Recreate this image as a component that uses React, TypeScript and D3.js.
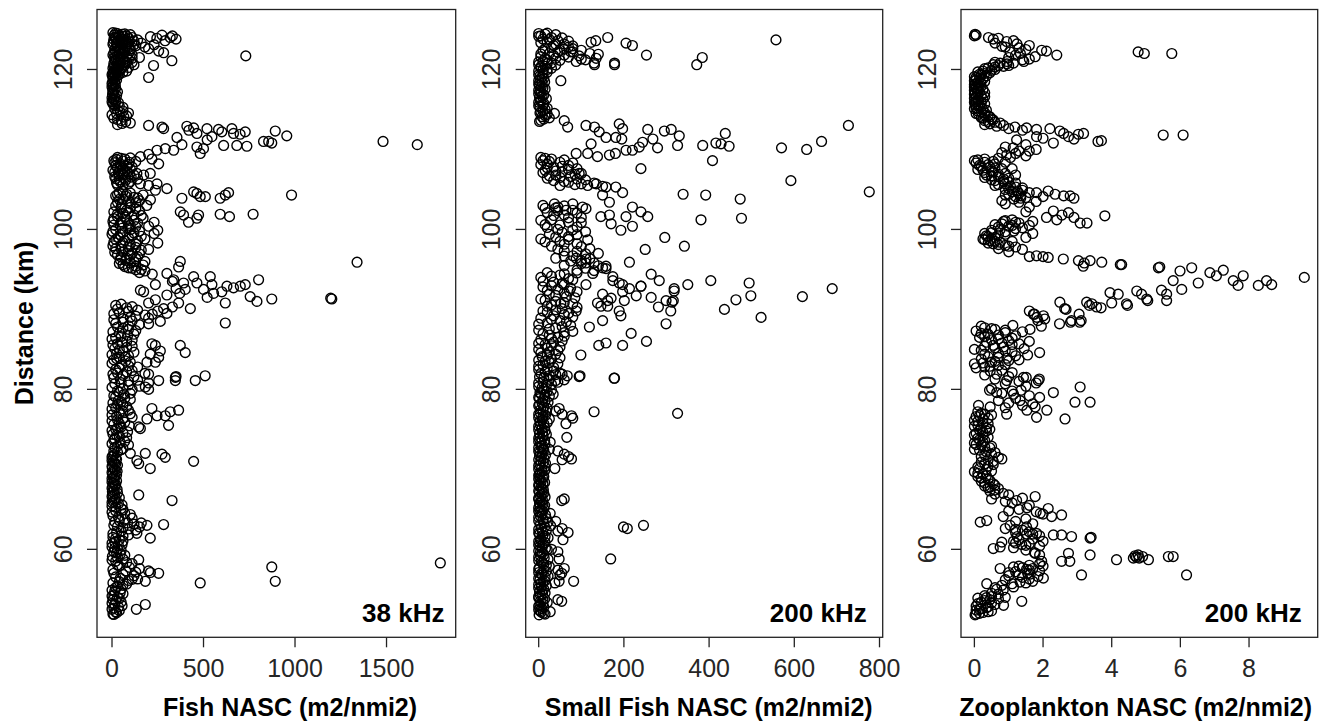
import React from "react";
import * as d3 from "d3";

// ---- data: [distance km, NASC] ----
const fish38: [number, number][] = [
  [124.6,5],[124.5,30],[124.4,55],[124.3,12],[124.2,80],[124.1,40],[124.0,110],[123.9,20],[123.8,65],[123.7,140],[123.6,35],[123.5,95],[123.4,8],[123.3,160],[123.2,50],[123.1,120],[123.0,25],[122.9,75],[122.8,180],[122.7,45],[122.6,100],[122.5,15],
  [124.1,210],[123.9,245],[124.3,273],[124.0,318],[123.8,350],[124.2,330],[123.6,290],[123.1,230],[122.1,282],[121.1,327],[120.5,227],[119.0,200],[121.7,731],[122.6,200],[121.5,150],[120.9,110],[122.3,255],
  [122.4,60],[122.2,20],[122.0,90],[121.8,5],[121.6,45],[121.4,110],[121.2,15],[121.0,70],[120.8,30],[120.6,120],[120.4,10],[120.2,55],[120.0,25],[119.8,80],[119.6,5],[119.4,40],[119.2,15],
  [119.0,10],[118.7,25],[118.4,5],[118.1,18],[117.8,0],[117.5,12],[117.2,30],[116.9,3],[116.6,15],[116.3,8],
  [116.0,20],[115.7,5],[115.4,40],[115.1,15],[114.8,60],[114.5,25],[114.2,80],[113.9,10],[113.6,50],[113.3,100],[113.1,30],
  [113.0,200],[112.8,273],[112.6,282],[111.5,355],[112.9,409],[112.7,446],[112.0,464],[112.6,519],[111.6,546],[112.5,582],[110.5,610],[112.6,655],[112.0,664],[110.5,682],[112.2,728],[110.4,737],[111.0,828],[110.8,873],[112.3,892],[111.7,955],[110.6,382],[109.9,337],[110.1,291],[109.9,246],[109.4,200],[110.3,464],[110.1,500],[109.5,482],[109.1,155],[108.8,218],[108.2,255],[111.0,856],[111.0,1481],[110.6,1668],[111.2,520],[112.2,600],[111.9,700],[112.4,420],
  [109.0,30],[108.8,70],[108.6,10],[108.4,95],[108.2,45],[108.0,20],[107.8,110],[107.6,60],[107.4,5],[107.2,85],[107.0,35],[106.8,120],[106.6,15],[106.4,70],[106.2,40],[106.0,100],[105.8,25],[105.6,60],[108.9,50],[108.5,130],[107.9,80],[107.3,40],[106.9,95],[106.3,140],
  [107.0,136],[106.8,173],[107.0,209],[105.7,155],[105.5,200],[105.7,246],[105.1,300],[104.9,237],
  [103.9,382],[104.7,446],[104.5,464],[104.1,482],[104.1,510],[103.9,591],[104.3,619],[104.6,637],[104.3,981],
  [104.6,40],[104.4,80],[104.2,20],[104.0,120],[103.8,60],[103.6,150],[103.4,30],[103.2,100],[103.0,190],[102.8,50],[102.6,130],[102.4,80],[104.3,170],[103.7,210],
  [102.2,373],[101.8,391],[100.9,418],[101.4,464],[101.8,473],[101.9,591],[101.6,642],[101.9,771],
  [102.2,10],[102.0,60],[101.8,120],[101.6,30],[101.4,170],[101.2,80],[101.0,5],[100.8,140],[100.6,45],[100.4,200],[100.2,90],[100.0,20],[99.8,150],[99.6,60],[99.4,0],[99.2,110],[99.0,35],[98.8,180],[98.6,70],[98.4,10],[98.2,130],[98.0,50],[97.8,90],[97.6,20],[97.4,160],[97.2,60],[97.0,110],[96.8,30],[96.6,140],[96.4,80],[96.2,45],[96.0,180],[95.8,100],[95.6,60],[95.4,130],[95.2,90],[95.0,160],[100.5,100],[99.5,230],[98.3,250],[100.9,230],[97.5,200],[99.9,250],
  [94.5,300],[95.3,364],[96.0,373],[93.7,337],[93.3,391],[94.1,446],[93.3,464],[94.1,537],[93.1,546],[92.0,555],[92.9,628],[92.7,664],[92.9,701],[93.1,728],[91.6,755],[93.7,801],[91.0,792],[91.3,873],[90.8,619],[90.1,428],[93.1,237],[92.2,173],[92.4,155],[91.2,237],[91.3,1201],[91.4,1195],[95.9,1339],
  [93.5,330],[92.6,350],[92.0,370],[91.8,300],[92.5,400],[91.5,520],[92.2,600],[92.5,500],
  [90.8,200],[90.1,282],[90.8,364],[88.3,619],[90.3,330],[89.8,250],[89.5,300],
  [90.5,20],[90.2,80],[89.9,140],[89.6,40],[89.3,180],[89.0,100],[88.7,10],[88.4,60],[88.1,150],[87.8,30],[87.5,90],[87.2,5],[86.9,120],[86.6,50],[86.3,0],[86.0,80],[85.7,30],[85.4,110],[85.1,15],[84.8,60],[84.5,25],[84.2,90],[88.9,200],[89.4,220],[88.5,264],[88.2,200],
  [85.7,218],[85.5,237],[84.8,264],[84.4,209],[84.0,255],[83.4,237],[83.4,191],[85.5,373],[84.6,400],
  [84.0,40],[83.7,10],[83.4,100],[83.1,55],[82.8,140],[82.5,20],[82.2,80],[81.9,5],[81.6,120],[81.3,45],[81.0,90],[80.7,15],[80.4,150],[80.1,60],[79.8,30],[79.5,100],[79.2,10],[78.9,70],[78.6,35],[82.0,180],[80.8,200],
  [81.5,346],[81.6,350],[81.1,346],[81.1,455],[81.7,509],[81.1,255],[81.9,200],[80.3,182],[80.0,200],
  [78.3,5],[78.0,60],[77.7,20],[77.4,90],[77.1,40],[76.8,0],[76.5,110],[76.2,30],[75.9,70],[75.6,10],[75.3,50],[75.0,20],[74.7,85],[74.4,5],[74.1,40],[73.8,15],[73.5,70],[73.2,0],[72.9,30],[72.6,60],[72.3,10],[72.0,100],
  [77.6,218],[77.4,364],[77.2,318],[76.7,291],[76.7,246],[76.3,191],[75.3,146],[75.5,309],[75.1,155],[72.0,182],[71.0,446],[71.5,291],[71.9,273],[71.1,136],[70.1,209],[70.7,146],
  [71.7,5],[71.4,20],[71.1,0],[70.8,15],[70.5,30],[70.2,3],[69.9,18],[69.6,0],[69.3,25],[69.0,8],[68.7,12],[68.4,0],[68.1,20],[67.8,5],[67.5,28],[67.2,2],[66.9,15],[66.6,0],[66.3,22],[66.0,8],[65.7,35],[65.4,0],[65.1,50],
  [66.8,146],[66.1,328],
  [64.8,20],[64.5,70],[64.2,5],[63.9,110],[63.6,40],[63.3,85],[63.0,10],[62.7,60],[62.4,130],[62.1,25],[61.8,90],
  [63.1,282],[63.0,191],[62.0,136],[61.4,209],[63.3,160],[62.8,150],
  [61.5,5],[61.2,40],[60.9,15],[60.6,55],[60.3,0],[60.0,30],[59.7,10],[59.4,45],[59.1,2],
  [58.8,60],[58.5,20],[58.2,110],[57.9,40],[57.6,150],[57.3,75],[57.0,10],[56.7,120],[56.4,45],[56.1,90],[55.8,5],[55.5,60],
  [58.7,146],[57.8,873],[56.0,892],[55.8,482],[57.0,255],[57.1,210],[56.0,182],[56.3,140],[57.3,200],[58.3,1794],
  [55.2,20],[54.9,0],[54.6,45],[54.3,10],[54.0,30],[53.7,5],[53.4,50],[53.1,15],[52.8,35],[52.5,0],[52.2,20],[51.9,5],
  [53.1,182],[52.5,133],
  // denser near-zero band
  [124.55,20],[124.45,70],[124.35,100],[124.25,35],[124.15,60],[124.05,15],[123.95,90],[123.85,45],[123.75,10],[123.65,75],[123.55,120],[123.45,55],[123.35,25],[123.25,85],[123.15,5],[123.05,60],[122.95,130],[122.85,30],[122.75,90],[122.65,60],[122.55,40],
  [122.45,30],[122.35,100],[122.25,70],[122.15,40],[122.05,10],[121.95,60],[121.85,110],[121.75,30],[121.65,80],[121.55,15],[121.45,60],[121.35,35],[121.25,90],[121.15,50],[121.05,20],[120.95,45],[120.85,80],[120.75,10],[120.65,40],[120.55,70],[120.45,35],[120.35,20],[120.25,90],[120.15,5],[120.05,50],[119.95,15],[119.85,40],[119.75,25],[119.65,60],[119.55,10],[119.45,20],[119.35,0],[119.25,30],[119.15,5],
  [118.85,5],[118.55,15],[118.25,0],[117.95,8],[117.65,20],[117.35,4],[117.05,10],[116.75,25],[116.45,0],[116.15,12],
  [115.85,35],[115.55,15],[115.25,60],[114.95,30],[114.65,45],[114.35,0],[114.05,65],[113.75,30],[113.45,75],[113.25,55],[115.95,0],[114.55,90],
  [108.95,100],[108.75,25],[108.55,60],[108.35,15],[108.15,90],[107.95,50],[107.75,30],[107.55,100],[107.35,70],[107.15,15],[106.95,60],[106.75,40],[106.55,105],[106.35,20],[106.15,75],[105.95,45],[105.75,90],[105.55,30],
  [104.75,60],[104.55,100],[104.35,30],[104.15,75],[103.95,140],[103.75,40],[103.55,90],[103.35,130],[103.15,55],[102.95,20],[102.75,100],[102.55,50],[102.35,150],
  [102.15,90],[101.95,30],[101.75,160],[101.55,70],[101.35,10],[101.15,120],[100.95,50],[100.75,90],[100.55,10],[100.35,130],[100.15,55],[99.95,100],[99.75,5],[99.55,120],[99.35,45],[99.15,160],[98.95,90],[98.75,20],[98.55,140],[98.35,60],[98.15,100],[97.95,5],[97.75,130],[97.55,50],[97.35,90],[97.15,15],[96.95,150],[96.75,100],[96.55,50],[96.35,130],[96.15,75],[95.95,120],[95.75,40],[95.55,170],[95.35,70],[95.15,110],[94.95,130],[94.8,180],[94.6,150],[94.4,220],
  [90.65,50],[90.35,110],[90.05,30],[89.75,90],[89.45,10],[89.15,130],[88.85,60],[88.55,110],[88.25,20],[87.95,90],[87.65,60],[87.35,130],[87.05,40],[86.75,85],[86.45,20],[86.15,110],[85.85,55],[85.55,5],[85.25,80],[84.95,40],[84.65,120],[84.35,0],[84.05,70],
  [83.85,25],[83.55,75],[83.25,0],[82.95,90],[82.65,40],[82.35,110],[82.05,30],[81.75,60],[81.45,10],[81.15,140],[80.85,50],[80.55,90],[80.25,0],[79.95,110],[79.65,40],[79.35,65],[79.05,20],[78.75,100],[78.45,50],
  [78.15,30],[77.85,80],[77.55,0],[77.25,60],[76.95,100],[76.65,25],[76.35,60],[76.05,0],[75.75,40],[75.45,95],[75.15,30],[74.85,0],[74.55,60],[74.25,25],[73.95,80],[73.65,10],[73.35,45],[73.05,90],[72.75,15],[72.45,50],[72.15,30],
  [71.85,12],[71.55,0],[71.25,25],[70.95,8],[70.65,20],[70.35,0],[70.05,12],[69.75,28],[69.45,5],[69.15,15],[68.85,0],[68.55,25],[68.25,8],[67.95,18],[67.65,0],[67.35,12],[67.05,30],[66.75,5],[66.45,40],[66.15,15],[65.85,0],[65.55,55],[65.25,20],
  [64.95,60],[64.65,0],[64.35,100],[64.05,35],[63.75,70],[63.45,15],[63.15,120],[62.85,30],[62.55,90],[62.25,50],[61.95,5],[61.65,60],
  [61.35,20],[61.05,60],[60.75,0],[60.45,35],[60.15,15],[59.85,50],[59.55,25],[59.25,70],[58.95,30],
  [58.65,0],[58.35,80],[58.05,30],[57.75,95],[57.45,5],[57.15,130],[56.85,60],[56.55,20],[56.25,110],[55.95,40],[55.65,80],[55.35,30],
  [55.05,50],[54.75,15],[54.45,60],[54.15,0],[53.85,40],[53.55,20],[53.25,0],[52.95,55],[52.65,10],[52.35,40],[52.05,25],[51.85,10],
];

const smallFish200: [number, number][] = [
  [124.5,0],[124.4,15],[124.2,5],[124.0,30],[123.8,10],[123.6,45],[123.4,20],[123.2,60],[123.0,35],[122.8,70],[122.6,15],[122.4,50],[122.2,80],[122.0,25],[121.8,60],[121.6,5],[121.4,40],[121.2,20],[121.0,10],[120.8,30],[120.6,0],[120.4,15],[120.2,5],[120.0,20],[119.8,0],[119.5,10],[119.2,3],[118.9,12],[118.6,0],[118.3,8],[118.0,2],[117.7,10],[117.4,0],[117.1,6],[116.8,12],[116.5,2],[116.2,5],[115.9,0],[115.6,10],[115.3,3],[115.0,15],[114.7,5],[114.4,20],[114.1,8],[113.8,12],[113.5,2],
  [122.4,100],[122.0,120],[121.7,95],[121.4,135],[121.2,110],[121.0,88],[120.8,130],[121.9,140],[122.2,75],[121.3,100],
  [123.4,123],[123.6,134],[124.0,162],[123.3,205],[123.0,220],[121.8,253],[120.8,178],[120.6,178],[120.6,371],[121.5,384],[123.7,557],[122.6,80],[120.6,131],[118.6,52],
  [114.5,37],[113.6,60],[112.8,68],[113.0,111],[112.8,131],[112.2,142],[111.5,158],[113.2,189],[112.6,197],[111.5,181],[111.3,195],[112.5,256],[111.3,268],[110.2,279],[112.3,295],[112.5,311],[111.7,330],[110.5,326],[110.5,385],[110.8,416],[110.7,428],[112.0,438],[110.4,447],[108.6,408],[110.2,570],[107.6,240],
  [109.5,88],[109.5,115],[109.1,138],[109.3,166],[109.5,180],[109.9,205],[109.9,220],[110.3,236],[110.9,244],[110.7,123],[110.0,629],[111.0,664],[113.0,727],[106.1,592],[104.7,776],
  [109.0,5],[108.8,30],[108.6,10],[108.4,50],[108.2,20],[108.0,70],[107.8,35],[107.6,90],[107.4,15],[107.2,55],[107.0,100],[106.8,40],[106.6,75],[106.4,20],[106.2,110],[106.0,60],[105.8,130],[105.6,85],[105.4,150],
  [107.0,95],[105.5,115],[105.7,135],[105.3,158],[105.3,181],[104.6,197],[104.3,150],[103.4,166],[102.8,220],[102.2,240],[101.6,256],[101.6,205],[100.4,220],[101.8,166],[101.6,146],[100.7,170],[99.9,193],[102.6,111],[102.8,103],[103.2,80],[103.2,37],[102.8,45],[102.4,64],
  [104.4,339],[104.3,392],[103.8,473],[101.4,476],[101.2,381],[99.0,296],[97.5,250],[97.9,342],[95.9,213],[98.7,115],
  [103.0,10],[102.7,40],[102.4,80],[102.1,20],[101.8,60],[101.5,100],[101.2,30],[100.9,70],[100.6,15],[100.3,90],[100.0,45],[99.7,110],[99.4,25],[99.1,70],[98.8,5],[98.5,50],[98.2,90],[97.9,30],[97.6,120],[97.3,60],[97.0,140],[96.7,80],[96.4,40],[96.1,100],[95.8,130],[95.5,60],[95.2,150],[94.9,90],
  [96.4,88],[95.8,111],[94.5,127],[95.1,158],[94.1,174],[93.3,189],[92.6,213],[92.9,240],[92.2,197],[91.4,170],[90.8,138],[90.4,162],[89.8,189],
  [95.4,158],[96.3,111],[94.4,264],[93.6,283],[93.6,404],[93.3,494],[93.1,350],[92.3,318],[90.9,313],[91.1,299],[91.5,264],[91.7,229],[91.1,201],[91.1,162],[90.4,146],[89.2,193],[90.0,436],[91.2,463],[91.7,498],[89.0,522],[89.8,310],[88.2,299],[88.6,150],[87.8,119],[85.5,141],[85.8,158],[85.5,197],[87.0,217],[86.0,253],[84.3,99],[81.6,95],[81.4,177],[90.7,52],[89.8,88],[92.3,72],[93.1,111],[93.6,174],[93.1,197],[92.9,240],[91.9,150],
  [91.6,619],[92.6,689],[90.3,281],[91.1,316],[92.6,318],
  [94.6,20],[94.3,50],[94.0,5],[93.7,80],[93.4,35],[93.1,60],[92.8,10],[92.5,45],[92.2,90],[91.9,25],[91.6,65],[91.3,5],[91.0,40],[90.7,80],[90.4,20],[90.1,55],[89.8,10],[89.5,70],[89.2,35],[88.9,5],[88.6,50],[88.3,20],[88.0,75],[87.7,40],[87.4,0],[87.1,60],[86.8,25],[86.5,45],[86.2,5],[85.9,35],[85.6,15],[85.3,50],[85.0,0],[84.7,25],[84.4,40],[84.1,8],[83.8,30],[83.5,15],[83.2,45],[82.9,0],[82.6,20],[82.3,35],[82.0,5],[81.7,25],[81.4,12],[81.1,40],[80.8,0],[80.5,18],[80.2,8],[79.9,30],[79.6,3],[79.3,15],[79.0,0],[78.7,10],[78.4,22],[78.1,2],[77.8,12],[77.5,5],[77.2,18],[76.9,0],[76.6,10],[76.3,25],[76.0,3],[75.7,12],[75.4,0],[75.1,8],[74.8,15],[74.5,2],[74.2,10],[73.9,0],[73.6,14],[73.3,4],[73.0,9],[72.7,0],[72.4,12],[72.1,3],[71.8,16],[71.5,6],[71.2,0],[70.9,11],[70.6,3],[70.3,14],[70.0,0],[69.7,8],[69.4,2],[69.1,12],[68.8,0],[68.5,6],[68.2,10],[67.9,1],[67.6,8],[67.3,0],[67.0,12],[66.7,4],[66.4,0],[66.1,9],[65.8,2],[65.5,14],[65.2,0],[64.9,7],[64.6,3],[64.3,16],[64.0,0],[63.7,10],[63.4,22],[63.1,4],[62.8,14],[62.5,0],[62.2,9],[61.9,2],[61.6,15],[61.3,5],[61.0,0],[60.7,11],[60.4,3],[60.1,16],[59.8,0],[59.5,8],[59.2,4],[58.9,13],[58.6,0],[58.3,9],[58.0,18],[57.7,2],[57.4,12],[57.1,0],[56.8,8],[56.5,15],[56.2,3],[55.9,10],[55.6,0],[55.3,6],[55.0,12],[54.7,2],[54.4,9],[54.1,0],[53.8,14],[53.5,4],[53.2,10],[52.9,0],[52.6,7],[52.3,3],[52.0,11],[51.8,1],
  [81.7,97],[81.4,178],[81.7,67],[81.9,55],[79.4,34],[77.2,130],[77.0,326],[76.7,77],[76.4,80],[75.7,64],[74.0,66],[66.1,54],[64.5,27],[71.3,77],[71.6,70],[71.2,55],[70.1,38],[72.5,25],[73.4,27],[62.8,199],[62.6,208],[63.0,246],[62.1,69],[62.6,55],[61.2,57],[59.7,45],[58.8,48],[58.8,169],[57.0,54],[56.0,48],[56.0,82],[53.7,45],[53.5,54],[52.2,27],
  [82.0,50],[81.2,60],[80.9,45],[77.6,48],[76.9,55],[77.3,40],[72.3,45],[71.9,60],[66.3,60],[63.5,40],[62.3,45],[57.4,45],[57.6,60],[56.8,50],[55.8,38],[60.0,30],
  // denser near-zero band
  [124.55,20],[124.35,40],[124.15,0],[123.95,55],[123.75,25],[123.55,70],[123.35,5],[123.15,40],[122.95,80],[122.75,30],[122.55,60],[122.35,10],[122.15,45],[121.95,5],[121.75,35],[121.55,70],[121.35,15],[121.15,50],[120.95,0],[120.75,20],[120.55,40],[120.35,5],[120.15,30],[119.95,10],[119.65,20],[119.35,0],[119.05,8],[118.75,4],[118.45,14],[118.15,0],[117.85,6],[117.55,15],[117.25,3],[116.95,0],[116.65,8],[116.35,18],[116.05,4],[115.75,12],[115.45,0],[115.15,20],[114.85,10],[114.55,3],[114.25,15],[113.95,25],[113.65,5],
  [108.9,15],[108.7,60],[108.5,25],[108.3,80],[108.1,5],[107.9,55],[107.7,20],[107.5,70],[107.3,40],[107.1,10],[106.9,85],[106.7,25],[106.5,50],[106.3,90],[106.1,35],[105.9,70],[105.7,100],[105.5,50],
  [102.95,60],[102.65,15],[102.35,45],[102.05,90],[101.75,35],[101.45,70],[101.15,5],[100.85,100],[100.55,50],[100.25,20],[99.95,80],[99.65,55],[99.35,90],[99.05,40],[98.75,70],[98.45,15],[98.15,60],[97.85,100],[97.55,45],[97.25,90],[96.95,110],[96.65,60],[96.35,120],[96.05,75],[95.75,100],[95.45,140],[95.15,110],[94.85,130],[94.55,90],
  [94.45,60],[94.15,30],[93.85,70],[93.55,10],[93.25,55],[92.95,30],[92.65,75],[92.35,20],[92.05,60],[91.75,40],[91.45,85],[91.15,15],[90.85,60],[90.55,30],[90.25,90],[89.95,40],[89.65,20],[89.35,60],[89.05,80],[88.75,30],[88.45,65],[88.15,0],[87.85,55],[87.55,25],[87.25,80],[86.95,10],[86.65,60],[86.35,30],[86.05,55],[85.75,0],[85.45,30],[85.15,20],[84.85,45],[84.55,5],[84.25,20],[83.95,50],[83.65,0],[83.35,25],[83.05,10],[82.75,35],[82.45,0],[82.15,15],[81.85,40],[81.55,2],[81.25,25],[80.95,10],[80.65,30],[80.35,0],[80.05,12],[79.75,20],[79.45,5],[79.15,25],[78.85,2],[78.55,15],[78.25,8],[77.95,0],[77.65,20],[77.35,10],[77.05,4],[76.75,16],[76.45,0],[76.15,8],[75.85,20],[75.55,4],[75.25,14],[74.95,0],[74.65,9],[74.35,18],[74.05,3],[73.75,7],[73.45,0],[73.15,15],[72.85,6],[72.55,10],[72.25,0],[71.95,8],[71.65,2],[71.35,12],[71.05,5],[70.75,16],[70.45,0],[70.15,7],[69.85,14],[69.55,4],[69.25,0],[68.95,9],[68.65,3],[68.35,14],[68.05,0],[67.75,5],[67.45,11],[67.15,2],[66.85,8],[66.55,15],[66.25,0],[65.95,6],[65.65,10],[65.35,3],[65.05,12],[64.75,0],[64.45,8],[64.15,4],[63.85,18],[63.55,0],[63.25,12],[62.95,28],[62.65,6],[62.35,18],[62.05,0],[61.75,10],[61.45,22],[61.15,4],[60.85,15],[60.55,0],[60.25,8],[59.95,20],[59.65,4],[59.35,12],[59.05,0],[58.75,22],[58.45,6],[58.15,12],[57.85,25],[57.55,0],[57.25,18],[56.95,6],[56.65,22],[56.35,0],[56.05,14],[55.75,5],[55.45,18],[55.15,0],[54.85,8],[54.55,15],[54.25,4],[53.95,0],[53.65,10],[53.35,20],[53.05,3],[52.75,12],[52.45,0],[52.15,6],[51.9,15],
];

const zooplankton200: [number, number][] = [
  [124.4,0.02],[124.3,0.05],[124.2,0.0],[124.0,0.41],[123.8,0.55],[123.5,0.94],[123.6,1.14],[123.2,1.24],[122.9,0.8],[122.7,1.3],[122.5,1.5],[122.2,1.04],[122.0,1.34],[121.8,1.2],[121.5,1.0],[121.2,1.4],[120.8,1.14],[121.0,1.44],[121.6,1.77],[122.4,1.96],[122.3,2.1],[121.8,2.40],[122.2,4.77],[122.0,4.95],[122.0,5.75],[123.9,0.7],[123.3,0.6],[122.8,0.9],[123.0,1.6],[121.3,1.6],
  [120.8,0.75],[120.6,0.55],[120.4,0.85],[120.2,0.4],[120.0,0.6],[119.8,0.25],[119.6,0.45],[119.4,0.15],[119.2,0.35],[119.0,0.05],[118.8,0.25],[118.6,0.0],[118.4,0.18],[118.2,0.02],[118.0,0.12],[117.8,0.0],[117.6,0.1],[117.4,0.0],[117.2,0.15],[117.0,0.02],[116.8,0.1],[116.6,0.3],[116.4,0.0],[116.2,0.12],[116.0,0.05],[115.8,0.2],[115.6,0.02],[115.4,0.15],[115.2,0.05],[115.0,0.25],[114.8,0.1],[114.6,0.3],[114.4,0.12],[114.2,0.4],[114.0,0.2],[113.8,0.5],[113.6,0.3],[113.4,0.6],[113.2,0.45],[121.0,0.95],[120.5,1.0],
  [112.9,0.65],[112.8,1.18],[112.7,1.52],[112.5,1.81],[112.6,2.20],[112.3,2.49],[111.6,2.74],[111.9,3.03],[112.0,3.18],[111.0,3.60],[111.1,3.70],[110.8,2.30],[111.6,1.81],[111.2,1.23],[113.0,0.85],[112.6,1.0],[111.8,5.50],[111.8,6.08],[112.4,1.4],[111.4,2.0],[112.0,2.6],[111.3,2.9],
  [110.2,1.13],[109.8,1.3],[109.3,0.94],[109.5,1.2],[109.0,1.05],[109.8,1.6],[110.0,1.8],[109.2,1.5],[109.6,0.8],[108.9,0.7],[108.6,0.0],[108.4,0.3],[108.2,0.6],[108.0,0.15],[107.8,0.45],[107.6,0.8],[107.4,0.25],[107.2,0.55],[107.0,0.9],[106.8,0.35],[106.6,0.7],[106.4,1.0],[106.2,0.5],[106.0,0.85],[105.8,1.2],[105.6,0.7],[105.4,1.05],[105.2,1.4],[105.0,0.9],[104.8,1.25],[104.6,1.6],[104.4,1.0],[104.2,1.35],[104.0,1.5],[103.8,1.15],[103.6,0.8],[103.4,1.3],[103.2,0.9],[108.4,0.9],[107.6,1.1],[106.8,1.2],[110.6,1.5],[110.3,0.9],
  [104.6,1.81],[104.4,2.35],[104.2,2.60],[104.2,2.79],[103.9,2.90],[104.8,2.15],[104.1,2.0],[103.5,1.8],[102.8,1.6],[102.2,1.5],
  [101.2,2.40],[101.8,2.55],[102.1,2.74],[101.5,2.9],[100.8,3.08],[100.8,3.28],[101.7,3.80],[101.0,1.7],[101.5,2.1],[102.3,2.3],
  [101.2,1.1],[101.0,0.85],[100.8,1.3],[100.6,0.6],[100.4,1.0],[100.2,1.4],[100.0,0.75],[99.8,1.15],[99.6,0.5],[99.4,0.9],[99.2,0.35],[99.0,0.6],[98.8,0.25],[98.6,0.45],[98.4,0.75],[98.2,0.55],[98.0,0.9],[97.8,1.2],[97.6,0.7],[99.0,1.5],[99.5,1.7],[100.5,1.6],[98.5,1.1],[97.5,1.4],[97.2,1.0],
  [96.7,1.81],[96.5,2.15],[96.3,2.59],[96.1,3.03],[95.4,3.17],[96.1,3.37],[95.9,3.71],[95.6,4.29],[95.6,4.25],[95.2,5.36],[95.3,5.40],[96.6,1.6],[96.6,2.0],[95.8,3.2],
  [87.5,1.62],[89.4,1.72],[89.0,1.82],[89.2,2.01],[90.9,2.49],[90.1,2.63],[88.6,2.83],[88.4,3.07],[90.9,3.27],[90.7,3.42],[90.3,3.56],[92.1,3.95],[91.9,4.19],[90.7,4.43],[92.3,4.73],[91.9,4.87],[91.3,5.02],[92.4,5.45],[91.9,5.60],[93.6,5.79],[92.5,6.04],[94.8,5.99],[95.2,6.33],[93.3,6.52],[94.6,6.86],[94.2,7.05],[94.9,7.25],[93.6,7.54],[93.0,7.68],[94.2,7.83],[93.0,8.27],[93.6,8.51],[93.1,8.66],[94.0,9.61],
  [89.8,1.6],[89.4,1.75],[88.8,2.05],[88.6,1.85],[90.0,2.67],[88.2,2.48],[88.4,2.8],[88.6,3.11],[89.4,3.05],[90.5,3.35],[90.2,3.69],[90.8,4.0],[90.5,4.46],[91.1,5.05],[91.1,5.6],[87.9,1.95],
  [88.0,1.12],[87.7,0.3],[87.5,0.6],[87.3,0.05],[87.1,0.9],[86.9,0.4],[86.7,1.2],[86.5,0.15],[86.3,0.7],[86.1,1.0],[85.9,0.35],[85.7,1.3],[85.5,0.55],[85.3,0.85],[85.1,1.45],[84.9,0.2],[84.7,1.1],[84.5,0.7],[84.3,1.55],[84.1,0.4],[83.9,0.95],[83.7,1.3],[83.5,0.6],[83.3,0.25],[83.1,0.9],[82.9,0.45],[82.7,0.05],[87.2,1.4],[86.0,1.6],[85.0,0.0],[84.6,1.9],
  [82.3,0.46],[81.9,0.65],[81.1,0.94],[81.5,1.43],[81.1,1.86],[79.6,2.30],[80.3,3.08],[78.4,2.93],[78.4,3.37],[76.3,2.64],[76.5,1.81],[77.4,2.11],[77.8,1.77],[79.4,1.14],[78.6,1.33],[77.4,1.53],[76.9,0.94],[77.8,0.46],[78.0,0.12],[79.6,0.65],[81.3,1.89],[81.5,1.51],[79.9,1.36],[79.9,0.44],
  [82.4,0.8],[82.1,1.1],[81.8,0.3],[81.6,1.0],[81.3,0.6],[81.0,1.3],[80.7,0.9],[80.4,1.5],[80.1,0.5],[79.8,1.1],[79.5,0.8],[79.2,1.6],[78.9,1.2],[78.6,0.7],[78.3,1.0],[78.0,1.4],[77.7,0.9],[80.8,1.8],[79.0,1.9],[78.2,1.7],
  [77.2,0.1],[76.9,0.3],[76.6,0.05],[76.3,0.25],[76.0,0.1],[75.7,0.4],[75.4,0.0],[75.1,0.2],[74.8,0.35],[74.5,0.05],[74.2,0.25],[73.9,0.1],[73.6,0.3],[73.3,0.0],[73.0,0.2],[72.7,0.45],[72.4,0.15],[72.1,0.6],[71.8,0.3],[71.5,0.7],[71.2,0.4],[70.9,0.2],[70.6,0.55],[70.3,0.1],[70.0,0.35],[69.7,0.0],[69.4,0.25],[69.1,0.1],[68.8,0.4],[68.5,0.2],[68.2,0.55],[67.9,0.3],[67.6,0.7],[67.3,0.45],[72.9,0.5],[71.3,0.8],[75.0,0.45],[76.8,0.5],
  [67.8,0.46],[67.0,0.84],[66.1,1.23],[66.6,1.77],[65.1,2.15],[64.3,2.54],[64.1,2.25],[64.5,1.92],[65.2,1.53],[63.4,0.17],[63.6,0.36],[64.1,0.84],[63.0,1.04],[66.8,1.0],[66.4,1.4],[65.8,1.1],[65.5,1.6],[65.0,1.3],[64.7,1.8],[64.4,2.0],[63.8,1.5],[63.5,1.2],[66.0,0.9],[64.8,1.0],[63.2,1.7],[66.9,0.6],[66.3,0.5],
  [62.8,1.52],[62.0,1.81],[61.8,2.30],[61.8,2.54],[61.6,2.83],[61.4,3.37],[61.5,3.40],[61.0,1.14],[60.6,1.38],[61.9,1.52],[60.1,0.55],[60.3,0.75],[60.2,1.14],[62.5,1.2],[62.2,1.6],[61.7,1.9],[61.3,1.7],[61.0,2.0],[60.7,1.6],[60.4,1.9],[62.6,0.9],[61.6,1.25],[60.9,0.8],[59.9,1.5],[59.6,1.75],[59.3,1.9],
  [59.5,2.74],[59.3,3.37],[58.5,2.54],[58.5,2.78],[58.5,1.96],[59.5,1.77],[58.7,4.14],[58.9,4.63],[59.3,4.77],[59.0,4.72],[59.1,4.90],[58.7,5.07],[59.1,5.65],[59.1,5.79],[56.8,3.12],[56.8,6.18],[58.9,4.80],[59.2,4.68],
  [57.6,0.75],[57.8,1.14],[57.5,1.52],[56.4,2.01],[56.9,1.63],[55.9,1.33],[55.3,1.14],[54.9,0.84],[55.7,0.36],[55.0,0.65],[53.5,1.38],[57.9,1.3],[57.6,1.7],[57.2,1.2],[57.0,1.55],[56.7,1.0],[56.5,1.4],[56.2,0.9],[56.0,1.7],[55.7,1.1],[55.5,0.8],[55.2,0.6],[57.3,1.9],[56.6,1.85],[58.0,1.6],[58.2,1.9],[57.9,2.0],
  [54.5,0.5],[54.2,0.3],[53.9,0.1],[53.7,0.45],[53.4,0.2],[53.1,0.6],[52.9,0.05],[52.7,0.35],[52.5,0.15],[52.3,0.5],[52.1,0.25],[51.9,0.05],[51.8,0.02],[53.8,0.7],[53.0,0.85],[54.0,0.9],
  // denser clusters
  [120.9,0.6],[120.7,0.95],[120.5,0.7],[120.3,0.6],[120.1,0.3],[119.9,0.5],[119.7,0.1],[119.5,0.3],[119.3,0.2],[119.1,0.0],[118.9,0.15],[118.7,0.05],[118.5,0.3],[118.3,0.1],[118.1,0.0],[117.9,0.2],[117.7,0.05],[117.5,0.25],[117.3,0.08],[117.1,0.3],[116.9,0.0],[116.7,0.2],[116.5,0.05],[116.3,0.25],[116.1,0.1],[115.9,0.0],[115.7,0.3],[115.5,0.1],[115.3,0.2],[115.1,0.0],[114.9,0.35],[114.7,0.2],[114.5,0.05],[114.3,0.3],[114.1,0.45],[113.9,0.25],[113.7,0.55],[113.5,0.4],[113.3,0.75],[113.1,0.3],
  [108.8,0.3],[108.7,0.1],[108.5,0.55],[108.3,0.05],[108.1,0.4],[107.9,0.2],[107.7,0.6],[107.5,0.1],[107.3,0.5],[107.1,0.3],[106.9,0.7],[106.7,0.5],[106.5,0.3],[106.3,0.85],[106.1,0.6],[105.9,1.0],[105.7,0.9],[105.5,0.6],[105.3,1.2],[105.1,1.0],[104.9,1.4],[104.7,1.1],[104.5,1.3],[104.3,0.9],[104.1,1.2],[103.9,1.35],
  [101.1,0.9],[100.9,1.2],[100.7,0.8],[100.5,1.1],[100.3,0.7],[100.1,1.2],[99.9,0.5],[99.7,0.9],[99.5,0.3],[99.3,0.7],[99.1,0.4],[98.9,0.5],[98.7,0.3],[98.5,0.6],[98.3,0.4],[98.1,0.7],[97.9,1.0],
  [87.9,0.2],[87.6,0.5],[87.4,0.9],[87.0,0.2],[86.8,0.7],[86.6,0.3],[86.4,1.1],[86.2,0.5],[85.8,0.8],[85.6,1.1],[85.4,0.3],[85.2,0.6],[84.8,0.9],[84.4,0.3],[84.2,1.2],[84.0,0.7],[83.8,0.2],[83.6,1.0],[83.4,0.5],[83.2,0.0],[83.0,0.7],[82.8,0.3],
  [77.0,0.2],[76.7,0.15],[76.4,0.4],[76.1,0.0],[75.8,0.25],[75.5,0.1],[75.2,0.35],[74.9,0.15],[74.6,0.25],[74.3,0.0],[74.0,0.4],[73.7,0.15],[73.4,0.25],[73.1,0.05],[72.8,0.3],[72.5,0.0],[72.2,0.35],[71.9,0.5],[71.6,0.2],[71.0,0.55],[70.7,0.3],[70.4,0.4],[70.1,0.15],[69.8,0.5],[69.5,0.1],[69.2,0.35],[68.9,0.2],[68.6,0.45],[68.3,0.3],[68.0,0.6],[67.7,0.4],[67.4,0.6],
  [54.4,0.7],[54.1,0.5],[53.95,0.35],[53.6,0.3],[53.3,0.5],[53.2,0.1],[52.8,0.4],[52.6,0.2],[52.4,0.05],[52.2,0.4],[52.0,0.15],
  [62.4,1.4],[62.1,1.2],[61.9,1.7],[61.2,1.3],[60.8,1.2],[60.5,1.5],[57.7,1.4],[57.4,1.6],[57.1,1.0],[56.8,1.3],[56.3,1.6],[55.8,1.5],
];

const distanceTicks = [60, 80, 100, 120];
const fishTicks = [0, 500, 1000, 1500];
const smallFishTicks = [0, 200, 400, 600, 800];
const zooTicks = [0, 2, 4, 6, 8];
const xTitles = ["Fish NASC (m2/nmi2)", "Small Fish NASC (m2/nmi2)", "Zooplankton NASC (m2/nmi2)"];
const freqLabels = ["38 kHz", "200 kHz", "200 kHz"];
const yTitle = "Distance (km)";

// ---- layout ----
const W = 1331, H = 723;
const TOP = 9.5, BOTTOM = 637.3;
const panels = [
  { left: 97, right: 455.7, domain: [-82, 1878], ticks: fishTicks, data: fish38, titleX: 290, labelX: 444.5 },
  { left: 525.7, right: 882.7, domain: [-30.5, 807.5], ticks: smallFishTicks, data: smallFish200, titleX: 708.7, labelX: 866.7 },
  { left: 961, right: 1317.7, domain: [-0.39, 10.0], ticks: zooTicks, data: zooplankton200, titleX: 1135.7, labelX: 1301.7 },
];

const AX = "#222";
const FONT = "'Liberation Sans', Arial, Helvetica, sans-serif";

export default function App() {
  const y = d3.scaleLinear().domain([49.0, 127.5]).range([BOTTOM, TOP]);
  return (
    <svg width={W} height={H} style={{ position: "absolute", left: 0, top: 0, background: "#fff" }}>
      <rect x={0} y={0} width={W} height={H} fill="#fff" />
      {panels.map((p, i) => {
        const x = d3.scaleLinear().domain(p.domain).range([p.left, p.right]);
        return (
          <g key={i}>
            <g fill="none" stroke="#000" strokeWidth={1.4}>
              {p.data.map((d, j) => (
                <circle key={j} cx={x(d[1])} cy={y(d[0])} r={4.9} />
              ))}
            </g>
            <rect x={p.left} y={TOP} width={p.right - p.left} height={BOTTOM - TOP} fill="none" stroke={AX} strokeWidth={1.3} />
            {p.ticks.map((t) => (
              <g key={"x" + t}>
                <line x1={x(t)} x2={x(t)} y1={BOTTOM} y2={BOTTOM + 10} stroke={AX} strokeWidth={1.3} />
                <text x={x(t)} y={676.5} textAnchor="middle" fontFamily={FONT} fontSize={25} fill="#262626">{t}</text>
              </g>
            ))}
            {distanceTicks.map((t) => (
              <g key={"y" + t}>
                <line x1={p.left - 10} x2={p.left} y1={y(t)} y2={y(t)} stroke={AX} strokeWidth={1.3} />
                <text transform={`translate(${p.left - 25.5},${y(t)}) rotate(-90)`} textAnchor="middle" fontFamily={FONT} fontSize={25} fill="#262626">{t}</text>
              </g>
            ))}
            <text x={p.titleX} y={716} textAnchor="middle" fontFamily={FONT} fontWeight="bold" fontSize={25} fill="#000">{xTitles[i]}</text>
            <text x={p.labelX} y={622.3} textAnchor="end" fontFamily={FONT} fontWeight="bold" fontSize={26} fill="#000">{freqLabels[i]}</text>
          </g>
        );
      })}
      <text transform={`translate(33,${(TOP + BOTTOM) / 2}) rotate(-90)`} textAnchor="middle" fontFamily={FONT} fontWeight="bold" fontSize={25} fill="#000">{yTitle}</text>
    </svg>
  );
}
